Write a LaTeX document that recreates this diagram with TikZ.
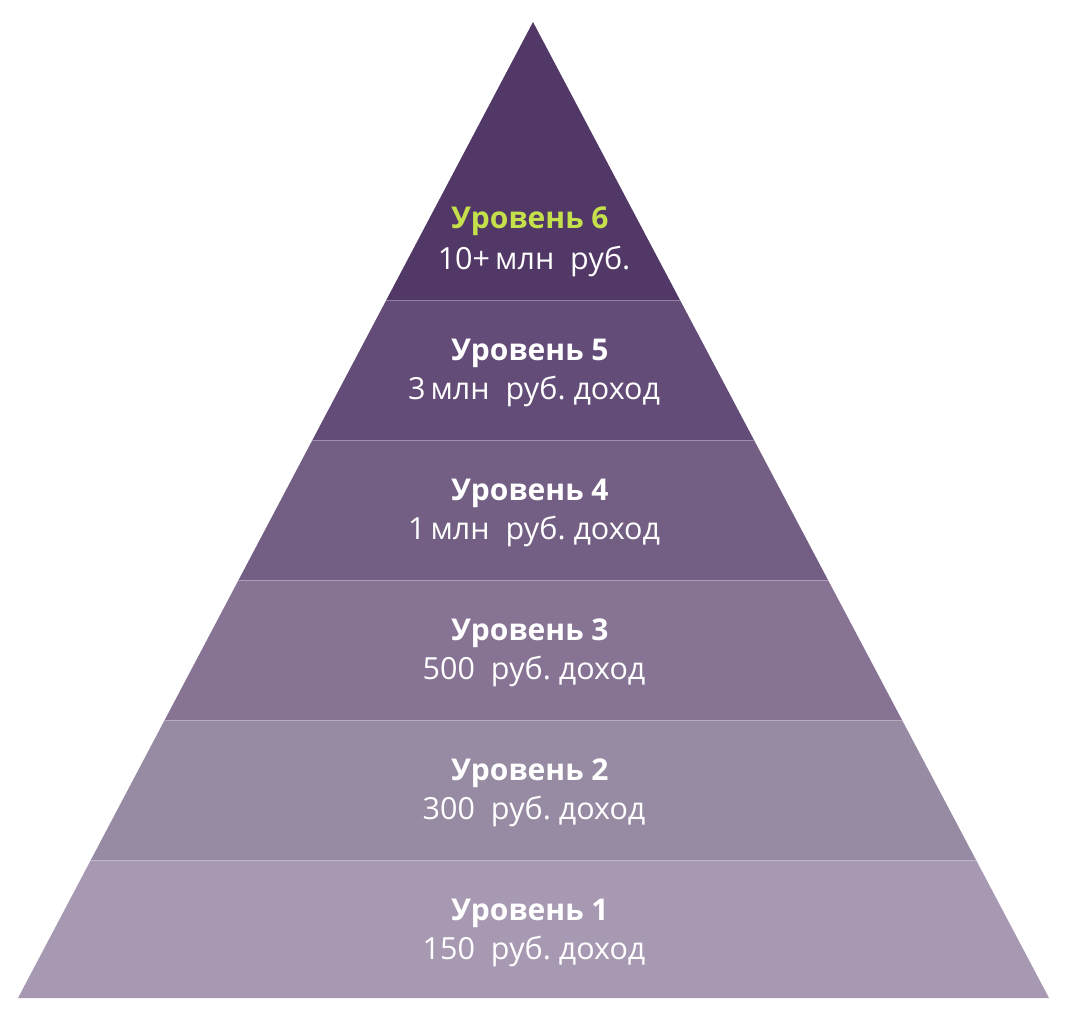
\documentclass[tikz,border=0pt]{standalone}
\usepackage{fontspec}
\setmainfont{Open Sans}
\usetikzlibrary{calc}
\frenchspacing
\begin{document}
\begin{tikzpicture}[x=1pt,y=-1pt,
  lvl/.style={font=\fontsize{30}{33}\selectfont\bfseries, text=white},
  inc/.style={font=\fontsize{30.5}{33}\selectfont, text=white},
  sep/.style={draw=white!30!#1, line width=0.7pt}]
\definecolor{c6}{HTML}{523866}
\definecolor{c5}{HTML}{634C77}
\definecolor{c4}{HTML}{735F84}
\definecolor{c3}{HTML}{877394}
\definecolor{c2}{HTML}{978AA3}
\definecolor{c1}{HTML}{A899B3}
\definecolor{hl}{HTML}{C4E04A}
\useasboundingbox (0,0) rectangle (1067,1010);
\coordinate (apex) at (533,22);
\coordinate (bl) at (18,998);
\coordinate (br) at (1049,998);
% band boundaries
\foreach \i/\y in {5/300,4/440,3/580,2/720,1/860}{
  \coordinate (L\i) at ($(apex)!{(\y-22)/976}!(bl)$);
  \coordinate (R\i) at ($(apex)!{(\y-22)/976}!(br)$);
}
\fill[c6] (apex) -- (R5) -- (L5) -- cycle;
\fill[c5] (L5) -- (R5) -- (R4) -- (L4) -- cycle;
\fill[c4] (L4) -- (R4) -- (R3) -- (L3) -- cycle;
\fill[c3] (L3) -- (R3) -- (R2) -- (L2) -- cycle;
\fill[c2] (L2) -- (R2) -- (R1) -- (L1) -- cycle;
\fill[c1] (L1) -- (R1) -- (br) -- (bl) -- cycle;
\draw[sep=c5] (L5) -- (R5);
\draw[sep=c4] (L4) -- (R4);
\draw[sep=c3] (L3) -- (R3);
\draw[sep=c2] (L2) -- (R2);
\draw[sep=c1] (L1) -- (R1);
% texts
\node[lvl, text=hl] (t6) at (530,221) {Уровень 6};
\node[inc] (i6) at (534,261) {10+\,млн\ \ руб.};
\node[lvl] (t5) at (530,353) {Уровень 5};
\node[inc] (i5) at (534,391) {3\,млн\ \ руб. доход};
\node[lvl] (t4) at (530,493) {Уровень 4};
\node[inc] (i4) at (534,531) {1\,млн\ \ руб. доход};
\node[lvl] (t3) at (530,633) {Уровень 3};
\node[inc] (i3) at (534,671) {500\ \ руб. доход};
\node[lvl] (t2) at (530,773) {Уровень 2};
\node[inc] (i2) at (534,811) {300\ \ руб. доход};
\node[lvl] (t1) at (530,913) {Уровень 1};
\node[inc] (i1) at (534,951) {150\ \ руб. доход};
\end{tikzpicture}
\end{document}
